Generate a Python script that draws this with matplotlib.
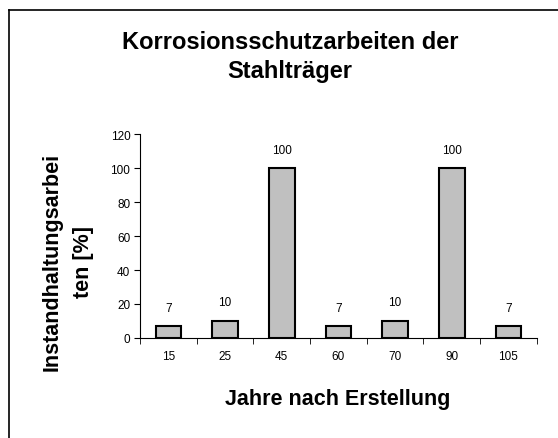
import numpy as np
import matplotlib.pyplot as plt
from matplotlib.lines import Line2D

plt.rcParams['font.family'] = ['Liberation Sans', 'DejaVu Sans']

years = ['15', '25', '45', '60', '70', '90', '105']
work_pct = [7, 10, 100, 7, 10, 100, 7]

fig = plt.figure(figsize=(5.58, 4.39), dpi=100)
ax = fig.add_axes([0.251, 0.228, 0.711, 0.464])

x = np.arange(len(years))
ax.bar(x, work_pct, width=0.45, color='#c0c0c0', edgecolor='black', linewidth=1.5)
for xi, v in zip(x, work_pct):
    ax.annotate(str(v), (xi, v), xytext=(0, 9), textcoords='offset points',
                ha='center', va='bottom', fontsize=8.5)

ax.set_xlim(-0.5, len(years) - 0.5)
ax.set_ylim(0, 120)
ax.set_yticks(range(0, 121, 20))
ax.set_xticks(x)
ax.set_xticklabels(years, fontsize=8.5)
ax.set_xticks(np.arange(-0.5, len(years)), minor=True)
ax.tick_params(axis='x', which='major', length=0, pad=9)
ax.tick_params(axis='x', which='minor', length=4, direction='out')
ax.tick_params(axis='y', length=4, direction='out', labelsize=8.5, pad=3)
for side in ['top', 'right']:
    ax.spines[side].set_visible(False)
for side in ['left', 'bottom']:
    ax.spines[side].set_linewidth(0.8)

title_kw = dict(ha='center', va='center', fontsize=17, fontweight='bold')
fig.text(0.52, 0.904, 'Korrosionsschutzarbeiten der', **title_kw)
fig.text(0.52, 0.838, 'Stahlträger', **title_kw)

label_kw = dict(ha='center', va='center', fontsize=15.5, fontweight='bold')
fig.text(0.606, 0.09, 'Jahre nach Erstellung', **label_kw)
fig.text(0.094, 0.403, 'Instandhaltungsarbei', rotation=90, **label_kw)
fig.text(0.15, 0.403, 'ten [%]', rotation=90, **label_kw)

# outer chart frame (top and left edges)
fig.add_artist(Line2D([0.017, 1.0], [0.976, 0.976], color='black', linewidth=1.2))
fig.add_artist(Line2D([0.017, 0.017], [0.0, 0.976], color='black', linewidth=1.2))

fig.savefig('out.png', dpi=100)
